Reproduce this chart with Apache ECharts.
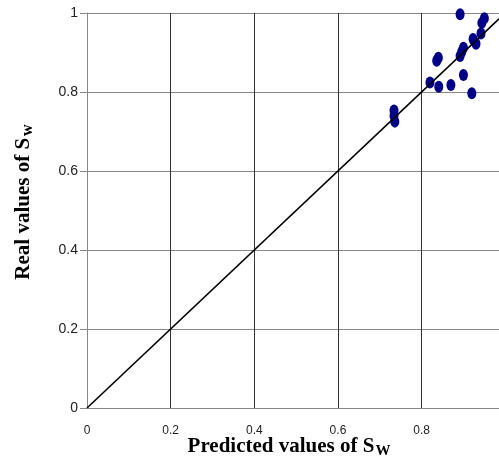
<!DOCTYPE html>
<html>
<head>
<meta charset="utf-8">
<script src="https://cdn.jsdelivr.net/npm/echarts@6/dist/echarts.min.js"></script>
<style>
  html, body { margin: 0; padding: 0; background: #fff; }
  #main { width: 499px; height: 464px; }
</style>
</head>
<body>
<div id="main"></div>
<script>
// predicted (x) and real (y) values of Sw
const predicted = [0.892, 0.944, 0.950, 0.942, 0.923, 0.930, 0.900, 0.896, 0.892, 0.840, 0.836, 0.900, 0.820, 0.841, 0.870, 0.920, 0.734, 0.734, 0.736];
const real = [0.997, 0.975, 0.987, 0.948, 0.934, 0.922, 0.912, 0.902, 0.891, 0.887, 0.879, 0.843, 0.824, 0.813, 0.818, 0.797, 0.753, 0.740, 0.725];
// y = x reference line
const lineX = [0, 0.985];
const yTicks = [0, 0.2, 0.4, 0.6, 0.8, 1];

const points = []
for (let i = 0; i < predicted.length; i++) {
  points.push([predicted[i], real[i]])
}
const diag = lineX.map(v => [v, v])

const labelFont = '"Liberation Sans", Arial, sans-serif'

const chart = echarts.init(document.getElementById('main'), null, { renderer: 'canvas' });
chart.setOption({
  animation: false,
  backgroundColor: '#fff',
  grid: { left: 87, right: 0, top: 13, bottom: 56 },
  xAxis: {
    type: 'value',
    min: 0,
    max: 0.985,
    interval: 0.2,
    axisLine: { show: true, onZero: false, lineStyle: { color: '#888', width: 1 } },
    axisTick: { show: false },
    axisLabel: {
      color: '#222',
      fontFamily: labelFont,
      fontSize: 12,
      margin: 17,
      showMaxLabel: false,
      formatter: v => (Math.abs(v / 0.2 - Math.round(v / 0.2)) < 1e-6 ? String(+v.toFixed(1)) : '')
    },
    splitLine: { show: true, lineStyle: { color: '#333', width: 1 } }
  },
  yAxis: {
    type: 'value',
    min: yTicks[0],
    max: yTicks[yTicks.length - 1],
    interval: 0.2,
    axisLine: { show: true, onZero: false, lineStyle: { color: '#888', width: 1 } },
    axisTick: { show: true, inside: false, length: 7, lineStyle: { color: '#888' } },
    axisLabel: { color: '#222', fontFamily: labelFont, fontSize: 14, margin: 9 },
    splitLine: { show: true, lineStyle: { color: '#888', width: 1 } }
  },
  graphic: [
    {
      type: 'text',
      x: 289,
      y: 447,
      style: {
        text: '{m|Predicted values of S}{s|W}',
        align: 'center',
        verticalAlign: 'middle',
        rich: {
          m: { fontFamily: 'Liberation Serif', fontWeight: 'bold', fontSize: 21, fill: '#000' },
          s: { fontFamily: 'Liberation Serif', fontWeight: 'bold', fontSize: 15, fill: '#000', padding: [8, 0, 0, 1] }
        }
      }
    },
    {
      type: 'text',
      x: 24,
      y: 202,
      rotation: Math.PI / 2,
      style: {
        text: '{m|Real values of S}{s|w}',
        align: 'center',
        verticalAlign: 'middle',
        rich: {
          m: { fontFamily: 'Liberation Serif', fontWeight: 'bold', fontSize: 21, fill: '#000' },
          s: { fontFamily: 'Liberation Serif', fontWeight: 'bold', fontSize: 16, fill: '#000', padding: [8, 0, 0, 2] }
        }
      }
    }
  ],
  series: [
    {
      type: 'line',
      data: diag,
      symbol: 'none',
      silent: true,
      lineStyle: { color: '#000', width: 1.6 }
    },
    {
      type: 'scatter',
      data: points,
      symbol: 'circle',
      symbolSize: [9, 12],
      itemStyle: { color: '#00008b', opacity: 1 }
    }
  ]
});
</script>
</body>
</html>
